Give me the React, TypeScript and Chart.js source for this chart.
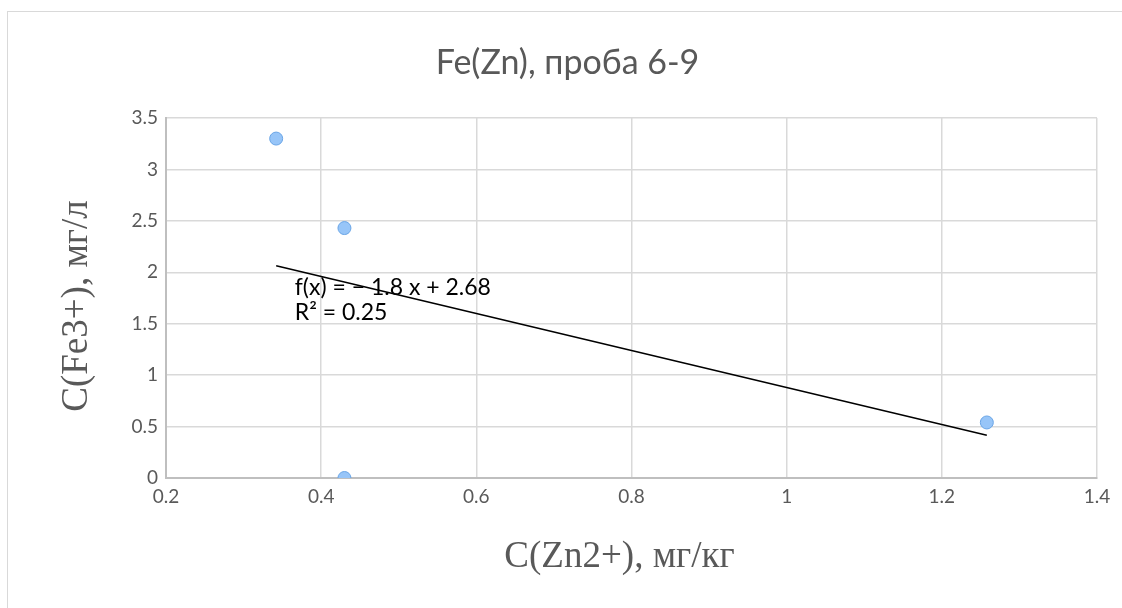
import React, { useEffect, useRef } from "react";
import { Chart, registerables } from "chart.js";

Chart.register(...registerables);

// Measured samples: Zn²⁺ content (mg/kg) vs Fe³⁺ concentration (mg/L)
const zincConc = [0.342, 0.43, 0.43, 1.258];
const ironConc = [3.3, 2.43, 0.0, 0.54];

// Linear trendline coefficients and fit quality
const trendSlope = -1.8;
const trendIntercept = 2.68;
const trendR2 = 0.25;

const xTicks = [0.2, 0.4, 0.6, 0.8, 1, 1.2, 1.4];
const yTicks = [0, 0.5, 1, 1.5, 2, 2.5, 3, 3.5];

const chartTitle = "Fe(Zn), проба 6-9";
const xTitle = "C(Zn2+), мг/кг";
const yTitle = "C(Fe3+), мг/л";

const AXIS_GREY = "#595959";
const SANS = "Lato, 'Noto Sans', sans-serif";
const SERIF = "'Liberation Serif', 'DejaVu Serif', serif";

// Axis titles and the trendline equation drawn on top of the plot
const annotationPlugin = {
  id: "annotations",
  afterDraw(chart: any) {
    const { ctx, chartArea, scales } = chart;
    const xs = scales.x;
    const ys = scales.y;
    ctx.save();

    ctx.fillStyle = AXIS_GREY;
    ctx.font = `37px ${SERIF}`;
    ctx.textAlign = "center";
    ctx.textBaseline = "alphabetic";
    const midX = (chartArea.left + chartArea.right) / 2;
    ctx.fillText(xTitle, midX - 12, chartArea.bottom + 89);

    const midY = (chartArea.top + chartArea.bottom) / 2;
    ctx.translate(chartArea.left - 79, midY + 8);
    ctx.rotate(-Math.PI / 2);
    ctx.fillText(yTitle, 0, 0);
    ctx.setTransform(1, 0, 0, 1, 0, 0);

    ctx.fillStyle = "#000000";
    ctx.font = `23px ${SANS}`;
    ctx.textAlign = "left";
    const sign = trendSlope < 0 ? "−" : "";
    const eq = `f(x) = ${sign} ${Math.abs(trendSlope)} x + ${trendIntercept}`;
    const lx = xs.getPixelForValue(0.366);
    const ly = ys.getPixelForValue(1.776);
    ctx.fillText(eq, lx, ly);
    ctx.fillText(`R² = ${trendR2}`, lx, ly + 25);

    ctx.restore();
  },
};

export default function App() {
  const canvasRef = useRef<HTMLCanvasElement | null>(null);

  useEffect(() => {
    const canvas = canvasRef.current;
    if (!canvas) return;

    const xMin = Math.min(...zincConc);
    const xMax = Math.max(...zincConc);
    const trendPoints = [xMin, xMax].map((x) => ({ x, y: trendSlope * x + trendIntercept }));
    const samplePoints = zincConc.map((x, i) => ({ x, y: ironConc[i] }));

    const chart = new Chart(canvas, {
      type: "scatter",
      data: {
        datasets: [
          {
            type: "line",
            label: "Линейная",
            data: trendPoints,
            borderColor: "#000000",
            borderWidth: 1.5,
            pointRadius: 0,
            fill: false,
            order: 1,
          },
          {
            label: "Fe",
            data: samplePoints,
            backgroundColor: "#97c5f8",
            borderColor: "#6aa5e6",
            borderWidth: 1,
            pointRadius: 6.5,
            order: 2,
          },
        ] as any,
      },
      options: {
        animation: false,
        responsive: false,
        events: [],
        layout: { padding: { left: 38, right: 25, top: 0, bottom: 0 } },
        plugins: {
          legend: { display: false },
          tooltip: { enabled: false },
          title: {
            display: true,
            text: chartTitle,
            color: AXIS_GREY,
            font: { family: SANS, size: 34, weight: "normal", lineHeight: 1.2 },
            padding: { top: 43, bottom: 34.2 },
          },
        },
        scales: {
          x: {
            type: "linear",
            min: 0.2,
            max: 1.4,
            afterBuildTicks: (s: any) => {
              s.ticks = xTicks.map((value) => ({ value }));
            },
            afterFit: (s: any) => {
              s.height = 130;
            },
            grid: { color: "#d9d9d9", lineWidth: 1.5, drawTicks: false },
            border: { color: "#bfbfbf", width: 2 },
            ticks: {
              color: AXIS_GREY,
              padding: 7,
              font: { family: SANS, size: 19 },
              callback: (v: any) => String(Number(Number(v).toFixed(1))),
            },
          },
          y: {
            type: "linear",
            min: 0,
            max: 3.5,
            afterBuildTicks: (s: any) => {
              s.ticks = yTicks.map((value) => ({ value }));
            },
            afterFit: (s: any) => {
              s.width = 128;
            },
            grid: { color: "#d9d9d9", lineWidth: 1.5, drawTicks: false },
            border: { color: "#bfbfbf", width: 2 },
            ticks: {
              color: AXIS_GREY,
              padding: 8,
              font: { family: SANS, size: 19 },
              callback: (v: any) => String(Number(Number(v).toFixed(1))),
            },
          },
        },
      },
      plugins: [annotationPlugin],
    });

    return () => chart.destroy();
  }, []);

  return (
    <div
      style={{
        position: "fixed",
        left: 0,
        top: 0,
        width: 1122,
        height: 608,
        overflow: "hidden",
        background: "#ffffff",
      }}
    >
      <div
        style={{
          position: "absolute",
          left: 7,
          top: 11,
          width: 1200,
          height: 700,
          border: "1px solid #d9d9d9",
          boxSizing: "border-box",
        }}
      />
      <canvas
        ref={canvasRef}
        width={1122}
        height={608}
        style={{ position: "absolute", left: 0, top: 0, width: 1122, height: 608 }}
      />
    </div>
  );
}
